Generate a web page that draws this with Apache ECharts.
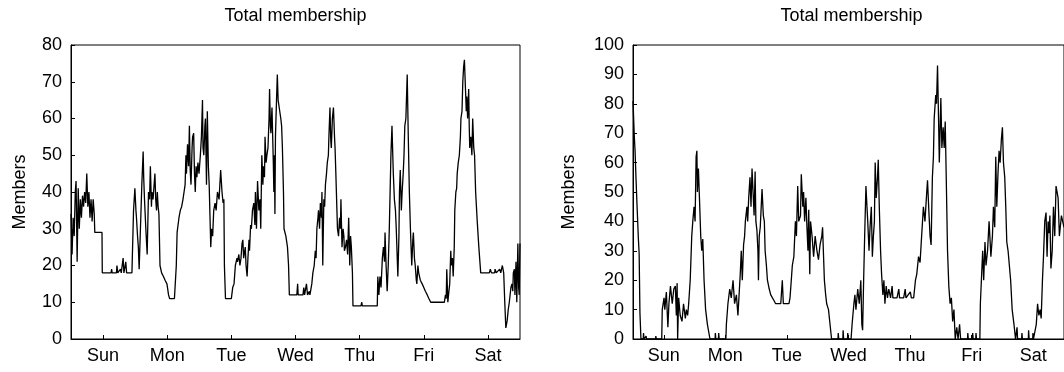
<!DOCTYPE html>
<html>
<head>
<meta charset="utf-8">
<script src="https://cdn.jsdelivr.net/npm/echarts@6/dist/echarts.min.js"></script>
<style>
html,body{margin:0;padding:0;background:#fff;}
#chart{width:1064px;height:372px;}
</style>
</head>
<body>
<div id="chart"></div>
<script>
// Day categories (tick labels, centred at noon of each day)
const days = ['Sun','Mon','Tue','Wed','Thu','Fri','Sat'];
const titleText = 'Total membership';
const yName = 'Members';
const leftYMax = 80;
const rightYMax = 100;
const yStep = 10;
const hoursSpan = 168;

// Left panel: [hour since start, members]
const leftMembers = [[0,34],[0.4,23],[0.8,33],[1.2,28],[1.6,40],[1.9,43],[2.3,21],[2.7,41],[3.1,30],[3.5,38],[3.9,33],[4.3,39],[4.7,36],[5.1,40],[5.5,37],[5.9,45],[6.3,36],[6.7,40],[7.1,33],[7.5,38],[7.9,32],[8.3,38],[8.7,34],[8.9,29],[11.6,29],[11.7,18],[15.0,18],[15.2,19],[15.4,18],[17.0,18],[17.2,20],[17.5,18],[18.5,19],[18.8,18],[19.5,22],[19.8,18],[20.5,21],[20.8,18],[22.8,18],[23.4,35],[23.9,41],[24.3,35],[24.5,33],[24.9,28],[25.2,25],[25.5,19],[25.9,19],[26.5,42],[27.0,51],[27.2,44],[27.5,38],[28.0,30],[28.5,23],[29.0,40],[29.4,38],[29.7,47],[30.1,36],[30.3,40],[30.7,38],[31.4,45],[31.7,38],[32.0,35],[32.3,40],[32.6,36],[32.9,34],[33.3,20],[33.9,18],[34.6,17],[35.2,16],[35.9,15],[36.5,12],[36.9,11],[38.7,11],[39.4,20],[39.7,29],[40.4,33],[40.9,35],[41.4,36],[41.9,38],[42.3,40],[42.7,42],[43.0,50],[43.2,45],[43.6,53],[44.0,47],[44.3,58],[44.6,46],[44.9,42],[45.3,52],[45.5,55],[45.9,56],[46.2,45],[46.5,40],[46.8,47],[47.1,44],[47.5,48],[47.9,45],[48.4,50],[48.8,55],[49.2,65],[49.4,52],[49.7,50],[50.1,58],[50.3,60],[50.7,42],[51.0,62],[51.4,47],[51.7,42],[52.3,25],[52.6,30],[53.0,28],[53.4,35],[53.9,37],[54.3,35],[54.8,40],[55.4,38],[56.0,46],[56.5,40],[56.9,37],[57.2,38],[57.4,20],[57.8,11],[60.0,11],[60.5,14],[61.0,15],[61.5,20],[62.1,22],[62.3,21],[62.8,23],[63.2,20],[63.6,22],[64.0,26],[64.3,27],[64.6,22],[65.2,25],[65.5,20],[65.9,17],[66.2,22],[66.6,27],[66.8,24],[67.2,31],[67.5,30],[67.9,35],[68.4,37],[68.8,31],[69.0,40],[69.4,30],[69.8,43],[70.3,35],[70.7,38],[71.0,30],[71.4,50],[71.8,42],[72.0,47],[72.4,44],[72.6,55],[73.0,48],[73.3,50],[73.7,52],[74.1,60],[74.3,68],[74.6,58],[74.8,56],[75.2,63],[75.5,63],[75.7,48],[75.9,40],[76.1,50],[76.3,34],[76.5,55],[76.9,65],[77.2,72],[77.5,65],[77.9,63],[78.5,60],[78.8,58],[79.1,52],[79.5,40],[79.7,30],[80.4,28],[81.0,25],[81.4,20],[81.7,12],[84.5,12],[84.8,15],[85.0,12],[86.8,12],[87.1,14],[87.4,12],[88.1,15],[88.5,12],[89.2,13],[89.4,12],[90.1,15],[90.5,18],[91.0,20],[91.4,24],[91.7,22],[92.0,30],[92.4,33],[92.6,35],[93.0,30],[93.3,37],[93.7,33],[93.9,40],[94.2,20],[94.6,38],[94.9,36],[95.2,42],[95.6,45],[95.9,48],[96.3,50],[96.5,55],[96.9,63],[97.2,54],[97.4,52],[97.8,60],[98.2,63],[98.6,55],[98.8,52],[99.1,45],[99.5,35],[99.7,30],[100.1,28],[100.5,33],[100.8,30],[101.0,38],[101.4,25],[101.8,30],[102.1,28],[102.3,24],[102.7,25],[103.1,27],[103.5,23],[103.9,33],[104.3,20],[104.6,28],[104.9,25],[105.3,18],[105.5,9],[108.5,9],[108.8,10],[109.0,9],[114.6,9],[114.8,17],[115.2,12],[115.6,17],[116.0,14],[116.5,22],[116.9,25],[117.3,21],[117.5,29],[117.9,20],[118.3,13],[118.7,20],[119.1,30],[119.4,40],[119.7,50],[120.1,58],[120.4,50],[120.6,45],[121.0,38],[121.4,35],[121.7,30],[122.3,17],[122.7,28],[122.9,40],[123.2,46],[123.6,35],[123.9,40],[124.3,45],[124.6,50],[124.9,58],[125.3,60],[125.5,60],[125.8,72],[126.2,55],[126.6,40],[127.0,30],[127.5,20],[127.9,27],[128.1,29],[128.5,22],[128.8,20],[129.2,16],[129.4,15],[129.8,20],[130.1,18],[130.7,16],[131.4,15],[132.0,14],[132.6,13],[133.3,12],[133.9,11],[134.6,10],[139.7,10],[140.1,12],[140.4,11],[140.6,19],[141.0,10],[141.4,13],[141.7,15],[142.1,24],[142.3,20],[142.7,22],[143.0,17],[143.4,25],[143.6,35],[144.0,40],[144.3,41],[144.5,45],[144.9,48],[145.3,50],[145.7,55],[145.9,60],[146.3,62],[146.6,70],[146.9,74],[147.2,76],[147.5,70],[147.9,62],[148.1,66],[148.4,60],[148.8,68],[149.0,58],[149.2,52],[149.6,55],[150.0,50],[150.3,60],[150.7,52],[151.0,50],[151.4,40],[152.0,32],[152.6,25],[153.3,18],[156.5,18],[156.9,19],[157.3,18],[158.5,18],[158.7,19],[159.1,18],[160.4,19],[160.8,18],[161.4,20],[161.9,18],[162.3,10],[162.7,3],[163.2,5],[163.6,8],[164.0,10],[164.2,10],[164.6,14],[165.0,15],[165.3,13],[165.5,18],[165.9,19],[166.1,12],[166.5,21],[166.8,10],[167.2,26],[167.5,14],[167.7,12],[168.0,26]];

// Right panel: [hour since start, members]
const rightMembers = [[0,81],[0.5,69],[0.8,64],[1.2,54],[1.5,47],[2.1,34],[2.4,29],[2.7,9],[3.1,0],[4.0,0],[4.1,2],[4.3,0],[5.0,0],[5.1,1],[5.3,0],[8.8,0],[8.9,1],[9.1,0],[11.2,0],[11.4,10],[12.1,14],[12.4,10],[13.0,16],[13.6,4],[14.0,12],[14.6,18],[15.3,12],[15.9,17],[16.5,18],[16.9,8],[17.2,19],[17.4,0],[17.8,14],[18.4,8],[19.1,6],[19.7,12],[20.4,7],[20.8,10],[21.3,8],[21.7,12],[22.3,20],[22.9,35],[23.3,40],[23.8,45],[24.2,40],[24.6,62],[24.9,64],[25.1,50],[25.5,58],[25.9,48],[26.4,35],[26.8,30],[27.2,34],[27.7,20],[28.3,10],[29.0,5],[30.0,0],[32.0,0],[32.1,2],[32.3,0],[33.3,0],[33.4,2],[33.6,0],[36.2,0],[36.4,5],[37.0,12],[37.7,17],[38.3,14],[39.0,20],[39.6,12],[40.3,15],[40.9,8],[41.5,8],[41.8,22],[42.2,30],[42.6,20],[43.1,32],[43.5,35],[43.8,40],[44.4,45],[44.7,40],[45.1,48],[45.6,55],[46.0,45],[46.4,58],[46.8,50],[47.2,42],[47.6,57],[47.9,40],[48.3,37],[48.7,30],[48.9,20],[49.2,35],[49.6,38],[50.3,51],[50.8,42],[51.2,40],[51.5,30],[52.0,25],[52.4,20],[53.1,17],[53.7,15],[54.4,15],[55.0,13],[55.6,12],[57.6,12],[58.2,20],[58.6,12],[59.5,12],[60.8,12],[61.2,14],[61.7,20],[62.1,25],[62.7,28],[63.3,40],[63.7,35],[64.2,52],[64.6,40],[65.3,42],[65.6,56],[66.2,45],[66.5,50],[66.9,40],[67.4,48],[67.8,38],[68.2,30],[68.5,44],[68.9,22],[69.2,40],[69.8,35],[70.4,28],[71.0,35],[71.7,30],[72.3,27],[72.9,32],[73.6,35],[73.9,38],[74.2,30],[74.6,20],[75.1,15],[75.5,12],[76.2,10],[76.8,5],[77.4,0],[79.9,0],[80.0,2],[80.2,0],[81.8,0],[81.9,3],[82.1,0],[83.6,0],[83.7,2],[83.9,0],[85.0,0],[85.4,5],[86.1,12],[86.5,15],[86.9,10],[87.6,17],[88.2,12],[88.8,20],[89.2,5],[89.5,3],[89.9,20],[90.3,35],[90.8,52],[91.2,45],[91.5,40],[92.0,30],[92.4,38],[92.9,45],[93.3,28],[93.7,35],[94.1,40],[94.4,60],[94.8,48],[95.3,55],[95.6,61],[96.0,45],[96.5,30],[96.9,22],[97.4,15],[97.8,20],[98.2,12],[98.7,18],[99.2,14],[99.7,17],[100.4,14],[101.0,18],[101.3,14],[102.9,14],[103.6,17],[103.9,14],[105.5,14],[106.1,17],[106.4,14],[108.1,16],[108.5,14],[109.4,14],[110.1,20],[110.6,22],[111.3,28],[111.9,26],[112.5,35],[113.2,45],[113.8,40],[114.5,50],[114.8,54],[115.4,42],[115.8,35],[116.2,32],[116.7,55],[117.1,62],[117.4,75],[118.0,83],[118.3,80],[118.7,93],[119.1,75],[119.4,60],[119.8,75],[120.0,82],[120.4,65],[120.9,72],[121.3,65],[121.7,74],[122.2,50],[122.6,30],[123.1,18],[123.6,12],[124.1,14],[124.6,6],[125.1,10],[125.6,0],[126.2,4],[126.7,0],[127.3,5],[127.7,0],[130.4,0],[130.5,2],[130.7,0],[132.3,0],[132.4,2],[132.6,0],[133.6,0],[133.7,2],[133.9,0],[135.2,0],[135.4,12],[135.9,22],[136.3,30],[136.7,20],[137.2,33],[137.6,25],[138.2,30],[138.8,40],[139.5,28],[140.1,35],[140.5,45],[141.0,38],[141.4,62],[141.8,45],[142.3,57],[142.7,64],[143.1,60],[143.6,68],[144.0,72],[144.4,60],[144.9,55],[145.3,45],[145.7,33],[146.2,30],[146.7,25],[147.2,20],[147.8,10],[148.5,5],[149.1,0],[149.6,0],[149.7,4],[149.9,0],[151.5,0],[151.6,2],[151.8,0],[154.1,0],[154.2,3],[154.4,0],[155.8,0],[155.9,2],[156.1,0],[156.8,0],[157.2,5],[157.7,12],[158.2,8],[158.7,10],[159.1,7],[159.6,20],[160.0,28],[160.5,40],[161.0,43],[161.4,28],[161.8,40],[162.2,36],[162.5,42],[162.9,24],[163.4,30],[163.9,45],[164.4,35],[164.9,52],[165.7,48],[166.2,35],[167.0,42],[168.0,38]];

const FONT = '"Liberation Sans", Arial, Helvetica, sans-serif';
const BLACK = '#000';
const FS = 18;

function catAxis(gi) {
  return {
    type: 'category', gridIndex: gi, data: days, boundaryGap: true,
    axisLine: {show: true, lineStyle: {color: BLACK, width: 1}},
    axisTick: {show: true, alignWithLabel: true, inside: true, length: 4, lineStyle: {color: BLACK}},
    axisLabel: {color: BLACK, fontSize: FS, fontFamily: FONT, margin: 8},
    splitLine: {show: false}
  };
}
function valXAxis(gi) {
  return {type: 'value', gridIndex: gi, min: 0, max: hoursSpan, show: false};
}
function yAxis(gi, max, gap) {
  return {
    type: 'value', gridIndex: gi, min: 0, max: max, interval: yStep,
    name: yName, nameLocation: 'middle', nameGap: gap, nameRotate: 90,
    nameTextStyle: {color: BLACK, fontSize: FS, fontFamily: FONT},
    axisLine: {show: true, lineStyle: {color: BLACK, width: 1}},
    axisTick: {show: true, inside: true, length: 4, lineStyle: {color: BLACK}},
    axisLabel: {color: BLACK, fontSize: FS, fontFamily: FONT, margin: 9},
    splitLine: {show: false}
  };
}
function lineSeries(xi, yi, data) {
  return {
    type: 'line', xAxisIndex: xi, yAxisIndex: yi, data: data,
    showSymbol: false, symbol: 'none', smooth: false,
    lineStyle: {color: BLACK, width: 1.3}, animation: false, silent: true
  };
}

const chart = echarts.init(document.getElementById('chart'), null, {renderer: 'canvas'});
chart.setOption({
  animation: false,
  backgroundColor: '#fff',
  textStyle: {fontFamily: FONT},
  title: [
    {text: titleText, left: 295.5, top: 7, textAlign: 'center', padding: 0,
     textStyle: {color: BLACK, fontSize: FS, fontWeight: 'normal', fontFamily: FONT}},
    {text: titleText, left: 851.5, top: 7, textAlign: 'center', padding: 0,
     textStyle: {color: BLACK, fontSize: FS, fontWeight: 'normal', fontFamily: FONT}}
  ],
  grid: [
    {left: 71, right: 544, top: 45, bottom: 33, show: true, borderColor: BLACK, borderWidth: 1, backgroundColor: 'transparent'},
    {left: 633, right: -6, top: 45, bottom: 33, show: true, borderColor: BLACK, borderWidth: 1, backgroundColor: 'transparent'}
  ],
  xAxis: [catAxis(0), valXAxis(0), catAxis(1), valXAxis(1)],
  yAxis: [yAxis(0, leftYMax, 42), yAxis(1, rightYMax, 55)],
  series: [lineSeries(1, 0, leftMembers), lineSeries(3, 1, rightMembers)]
});
</script>
</body>
</html>
